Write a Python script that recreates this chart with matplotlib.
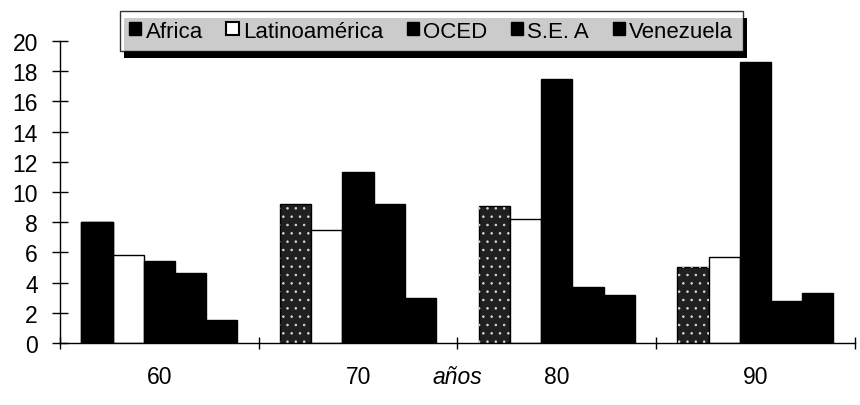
#tasas.py

#grouped bars per decade for five regions

import matplotlib
matplotlib.use("Agg")
import matplotlib.pyplot as plt
import numpy as np
from matplotlib.patches import Rectangle, Patch
from matplotlib.transforms import IdentityTransform

plt.rcParams['font.family'] = ['Liberation Sans', 'DejaVu Sans']
plt.rcParams['hatch.linewidth'] = 0.6

decadas = ['60', '70', '80', '90']
regiones = ['Africa', 'Latinoamérica', 'OCED', 'S.E. A', 'Venezuela']

africa = [8.0, 9.2, 9.1, 5.0]
latino = [5.8, 7.5, 8.2, 5.7]
oced = [5.4, 11.3, 17.5, 18.6]
sea = [4.6, 9.2, 3.7, 2.8]
venezuela = [1.5, 3.0, 3.2, 3.3]

series = [africa, latino, oced, sea, venezuela]

fig = plt.figure(figsize=(8.6, 4.06), dpi=100)
ax = fig.add_axes([0.0698, 0.153, 0.9242, 0.7436])

x = np.arange(len(decadas))
w = 0.157
offs = (np.arange(len(series)) - 2) * w

for i, vals in enumerate(series):
    if i == 1:
        ax.bar(x + offs[i], vals, w, facecolor='white', edgecolor='black', linewidth=1.0, zorder=2)
    elif i == 0:
        ax.bar(x + offs[i], vals, w, facecolor='#202020', edgecolor='black', linewidth=1.0, zorder=2)
        # stippled look for the later decades
        ax.bar(x[1:] + offs[i], vals[1:], w, facecolor='none', edgecolor='#d8d8d8',
               linewidth=0, hatch='..', zorder=3)
        ax.bar(x[:1] + offs[i], vals[:1], w, facecolor='black', edgecolor='black', linewidth=1.0, zorder=3)
    else:
        ax.bar(x + offs[i], vals, w, facecolor='black', edgecolor='black', linewidth=1.0, zorder=2)

ax.set_xlim(-0.5, 3.5)
ax.set_ylim(0, 20)
ax.set_yticks(np.arange(0, 21, 2))
ax.tick_params(axis='y', direction='inout', length=12, width=1, labelsize=16.5, pad=10)
ax.set_xticks(np.arange(-0.5, 3.6, 1))
ax.set_xticklabels([])
ax.tick_params(axis='x', direction='inout', length=8, width=1)
for xi, lab in zip(x, decadas):
    ax.text(xi, -2.2, lab, ha='center', va='center', fontsize=16.5)
ax.text(1.5, -2.2, 'años', ha='center', va='center', fontsize=16.5, style='italic')

for s in ['top', 'right']:
    ax.spines[s].set_visible(False)
for s in ['left', 'bottom']:
    ax.spines[s].set_linewidth(1.0)

handles = [Patch(facecolor='black', edgecolor='black'),
           Patch(facecolor='white', edgecolor='black', linewidth=1.5),
           Patch(facecolor='black', edgecolor='black'),
           Patch(facecolor='black', edgecolor='black'),
           Patch(facecolor='black', edgecolor='black')]
leg = ax.legend(handles, regiones, ncol=5, loc='center', bbox_to_anchor=(0.467, 1.033),
                fontsize=16, frameon=True, fancybox=False, edgecolor='black',
                handlelength=0.55, handleheight=0.55, handletextpad=0.2, columnspacing=1.05,
                borderpad=0.42, borderaxespad=0)
leg.get_frame().set_linewidth(1.0)
leg.set_zorder(6)

# black drop shadow under the legend box
fig.canvas.draw()
bb = leg.get_window_extent()
sh = Rectangle((bb.x0 + 4, bb.y0 - 7), bb.width, bb.height, facecolor='black',
               edgecolor='none', transform=IdentityTransform(), zorder=5, clip_on=False)
ax.add_patch(sh)

fig.savefig('out.png', dpi=100)
